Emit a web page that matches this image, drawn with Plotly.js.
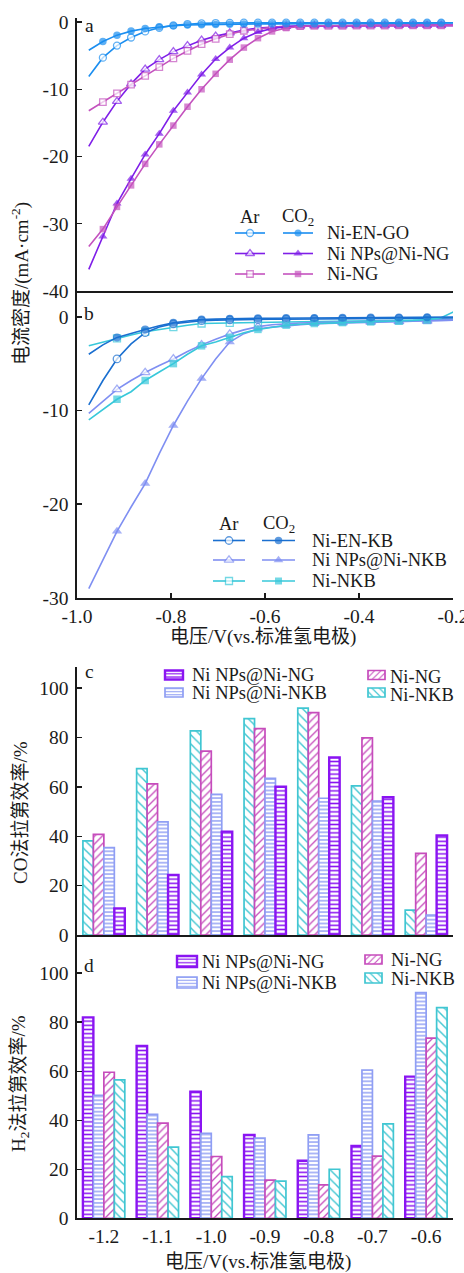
<!DOCTYPE html>
<html><head><meta charset="utf-8">
<script src="https://cdn.plot.ly/plotly-3.0.1.min.js"></script>
<style>html,body{margin:0;padding:0;background:#fff}#chart{width:464px;height:1273px}</style>
</head><body><div id="chart"></div>
<script>
// ---------------- DATA ----------------
// panels a & b: potential (V vs. RHE) and current density (mA/cm2)
const potential = [-0.975,-0.945,-0.915,-0.885,-0.855,-0.825,-0.795,-0.765,-0.735,-0.705,-0.675,-0.645,-0.615,-0.585,-0.555,-0.525,-0.495,-0.465,-0.435,-0.405,-0.375,-0.345,-0.315,-0.285,-0.255,-0.225,-0.195];
const a_NiENGO_Ar   = [-8.1,-5.3,-3.5,-2.3,-1.4,-0.85,-0.5,-0.3,-0.2,-0.15,-0.12,-0.1,-0.1,-0.1,-0.1,-0.1,-0.1,-0.1,-0.1,-0.1,-0.1,-0.1,-0.1,-0.1,-0.1,-0.1,-0.1];
const a_NiENGO_CO2  = [-4.2,-2.9,-1.95,-1.35,-0.95,-0.7,-0.55,-0.45,-0.4,-0.35,-0.32,-0.3,-0.28,-0.27,-0.26,-0.25,-0.24,-0.23,-0.22,-0.21,-0.2,-0.2,-0.19,-0.18,-0.17,-0.16,-0.15];
const a_NPsNG_Ar    = [-18.5,-14.9,-11.8,-9.2,-7.0,-5.6,-4.4,-3.5,-2.7,-2.1,-1.6,-1.2,-0.9,-0.75,-0.65,-0.6,-0.58,-0.56,-0.55,-0.54,-0.53,-0.52,-0.51,-0.5,-0.5,-0.5,-0.5];
const a_NiNG_Ar     = [-13.2,-11.9,-10.6,-9.3,-8.0,-6.7,-5.4,-4.3,-3.3,-2.5,-1.8,-1.3,-1.0,-0.8,-0.7,-0.62,-0.58,-0.56,-0.55,-0.54,-0.53,-0.52,-0.51,-0.5,-0.5,-0.5,-0.5];
const a_NPsNG_CO2   = [-36.8,-31.9,-27.0,-23.3,-19.7,-16.6,-13.2,-10.5,-7.8,-5.5,-3.8,-2.4,-1.5,-0.95,-0.7,-0.6,-0.55,-0.53,-0.52,-0.51,-0.5,-0.5,-0.5,-0.5,-0.5,-0.5,-0.5];
const a_NiNG_CO2    = [-33.4,-30.8,-27.5,-24.3,-21.1,-18.2,-15.4,-12.6,-10.0,-7.7,-5.6,-3.8,-2.4,-1.4,-0.9,-0.65,-0.55,-0.52,-0.5,-0.5,-0.5,-0.5,-0.5,-0.5,-0.5,-0.5,-0.5];

const b_NiENKB_Ar   = [-9.4,-6.8,-4.5,-2.9,-1.7,-1.1,-0.75,-0.55,-0.42,-0.36,-0.32,-0.3,-0.28,-0.27,-0.26,-0.25,-0.24,-0.23,-0.22,-0.21,-0.2,-0.19,-0.18,-0.17,-0.16,-0.15,-0.12];
const b_NiENKB_CO2  = [-4.0,-3.0,-2.2,-1.75,-1.35,-0.95,-0.65,-0.45,-0.3,-0.25,-0.2,-0.18,-0.16,-0.15,-0.14,-0.13,-0.12,-0.11,-0.1,-0.1,-0.09,-0.08,-0.07,-0.06,-0.05,-0.04,-0.03];
const b_NPsNKB_Ar   = [-10.3,-9.0,-7.75,-6.8,-5.95,-5.2,-4.5,-3.7,-3.0,-2.4,-1.85,-1.4,-1.05,-0.85,-0.72,-0.66,-0.62,-0.6,-0.58,-0.56,-0.54,-0.52,-0.5,-0.48,-0.45,-0.4,-0.35];
const b_NiNKB_Ar    = [-3.1,-2.7,-2.3,-1.95,-1.6,-1.35,-1.1,-0.9,-0.72,-0.68,-0.65,-0.62,-0.6,-0.58,-0.56,-0.54,-0.52,-0.5,-0.48,-0.46,-0.44,-0.42,-0.4,-0.38,-0.36,-0.34,-0.3];
const b_NPsNKB_CO2  = [-29.0,-26.0,-22.9,-20.3,-17.8,-14.6,-11.6,-9.0,-6.6,-4.5,-2.7,-1.8,-1.3,-1.1,-0.95,-0.85,-0.75,-0.7,-0.66,-0.62,-0.58,-0.55,-0.52,-0.48,-0.44,-0.4,-0.35];
const b_NiNKB_CO2   = [-11.0,-9.9,-8.8,-8.0,-6.8,-5.9,-5.0,-4.0,-3.1,-2.7,-2.2,-1.7,-1.35,-1.1,-0.9,-0.8,-0.72,-0.66,-0.62,-0.58,-0.55,-0.5,-0.45,-0.4,-0.3,-0.1,0.6];

// panels c & d: Faradaic efficiencies (%)
const fePotentials = ['-1.2','-1.1','-1.0','-0.9','-0.8','-0.7','-0.6'];
const coFE_NiNPsNiNG  = [10.8,24.3,41.9,60.1,71.9,55.8,40.3];
const coFE_NiNPsNiNKB = [35.4,45.8,57.0,63.5,55.4,54.3,8.1];
const coFE_NiNG       = [40.8,61.2,74.5,83.6,90.1,79.9,33.1];
const coFE_NiNKB      = [38.1,67.4,82.7,87.7,91.9,60.4,10.1];
const h2FE_NiNPsNiNG  = [82.0,70.3,51.7,34.0,23.5,29.5,57.8];
const h2FE_NiNPsNiNKB = [50.2,42.4,34.7,32.7,34.0,60.5,92.1];
const h2FE_NiNG       = [59.6,38.8,25.2,15.6,13.6,25.4,73.5];
const h2FE_NiNKB      = [56.5,29.0,17.0,15.2,20.0,38.5,86.0];

// tick labels
const jTickVals_a = [0,-10,-20,-30,-40];
const jTickText_a = ['0','-10','-20','-30','-40'];
const jTickVals_b = [0,-10,-20,-30];
const jTickText_b = ['0','-10','-20','-30'];
const vTickVals = [-1.0,-0.8,-0.6,-0.4,-0.2];
const vTickText = ['-1.0','-0.8','-0.6','-0.4','-0.2'];
const feTickVals = [0,20,40,60,80,100];

// ---------------- STYLE / LAYOUT ----------------
const W = 464, H = 1273;
const FONT = "'Liberation Serif', 'Times New Roman', 'Noto Sans CJK SC', serif";
const INK = '#1a1a1a';
const C = {
  GO:'#1b8ef0', NPsNG:'#7f1ee8', NG:'#c452be',
  EKB:'#1a6fd0', NPsNKB:'#7f8ff2', NKB:'#38c8da',
  barNPsNG:'#8a14f2', barNPsNKB:'#8f9ef4', barNG:'#c64cbc', barNKB:'#40c6d2'
};
function dom(top, bot){ return [1 - bot/H, 1 - top/H]; }
const xd = [77/W, 453/W];
const ax = {showline:true, linecolor:INK, linewidth:1.6, ticks:'inside', ticklen:5, tickwidth:1.5,
  tickcolor:INK, showgrid:false, zeroline:false, fixedrange:true, ticklabeloverflow:'allow',
  tickfont:{family:FONT, size:19.5, color:INK}};

function curve(y, xa, ya, color, symbol, open, size, every){
  const n = y.length, s = [], lw = [];
  for (let i = 0; i < n; i++){
    const on = i > 0 && i % every === 0;
    s.push(on ? size : 0); lw.push(on && open ? 1.3 : 0);
  }
  return {type:'scatter', mode:'lines+markers', x:potential, y:y, xaxis:xa, yaxis:ya,
    line:{color:color, width:1.6},
    marker:{symbol:symbol, size:s, color: open ? 'white' : color, line:{color:color, width:lw}},
    showlegend:false, hoverinfo:'skip', cliponaxis:false};
}
const BS = {
  NPsNG:{color:C.barNPsNG, shape:'-', size:4.2, sol:0.36, lw:2.4},
  NPsNKB:{color:C.barNPsNKB, shape:'-', size:3.8, sol:0.38, lw:1.7},
  NG:{color:C.barNG, shape:'/', size:5.5, sol:0.24, lw:1.7},
  NKB:{color:C.barNKB, shape:'\\', size:6.5, sol:0.22, lw:1.7}
};
function bars(y, xa, ya, st){
  return {type:'bar', x:fePotentials, y:y, xaxis:xa, yaxis:ya,
    marker:{color:'white', line:{color:st.color, width:st.lw},
      pattern:{shape:st.shape, fgcolor:st.color, bgcolor:'white', size:st.size, solidity:st.sol}},
    showlegend:false, hoverinfo:'skip'};
}

const traces = [
  // panel a
  curve(a_NiENGO_Ar, 'x', 'y', C.GO, 'circle', true, 7, 1),
  curve(a_NPsNG_Ar, 'x', 'y', C.NPsNG, 'triangle-up', true, 8, 1),
  curve(a_NiNG_Ar, 'x', 'y', C.NG, 'square', true, 6.5, 1),
  curve(a_NPsNG_CO2, 'x', 'y', C.NPsNG, 'triangle-up', false, 8, 1),
  curve(a_NiNG_CO2, 'x', 'y', C.NG, 'square', false, 6.5, 1),
  curve(a_NiENGO_CO2, 'x', 'y', C.GO, 'circle', false, 7.5, 1),
  // panel b
  curve(b_NiNKB_Ar, 'x2', 'y2', C.NKB, 'square', true, 7, 2),
  curve(b_NPsNKB_Ar, 'x2', 'y2', C.NPsNKB, 'triangle-up', true, 8.5, 2),
  curve(b_NiENKB_Ar, 'x2', 'y2', C.EKB, 'circle', true, 7.5, 2),
  curve(b_NPsNKB_CO2, 'x2', 'y2', C.NPsNKB, 'triangle-up', false, 9, 2),
  curve(b_NiNKB_CO2, 'x2', 'y2', C.NKB, 'square', false, 7.5, 2),
  curve(b_NiENKB_CO2, 'x2', 'y2', C.EKB, 'circle', false, 8, 2),
  // panel c
  bars(coFE_NiNKB, 'x3', 'y3', BS.NKB),
  bars(coFE_NiNG, 'x3', 'y3', BS.NG),
  bars(coFE_NiNPsNiNKB, 'x3', 'y3', BS.NPsNKB),
  bars(coFE_NiNPsNiNG, 'x3', 'y3', BS.NPsNG),
  // panel d
  bars(h2FE_NiNPsNiNG, 'x4', 'y4', BS.NPsNG),
  bars(h2FE_NiNPsNiNKB, 'x4', 'y4', BS.NPsNKB),
  bars(h2FE_NiNG, 'x4', 'y4', BS.NG),
  bars(h2FE_NiNKB, 'x4', 'y4', BS.NKB)
];

// ---------- hand-built legends on a pixel overlay axis (x5/y5) ----------
const annotations = [];
function txt(t, x, y, opts){
  annotations.push(Object.assign({text:t, x:x, y:y, xref:'x5', yref:'y5', showarrow:false,
    xanchor:'left', yanchor:'middle', font:{family:FONT, size:18.5, color:INK}}, opts||{}));
}
function sample(x0, x1, y, color, symbol, open, size){
  traces.push({type:'scatter', mode:'lines+markers', x:[x0,(x0+x1)/2,x1], y:[y,y,y], xaxis:'x5', yaxis:'y5',
    line:{color:color, width:1.6},
    marker:{symbol:symbol, size:[0,size,0], color: open ? 'white' : color, line:{color:color, width:[0, open?1.3:0, 0]}},
    showlegend:false, hoverinfo:'skip', cliponaxis:false});
}
function key(x0, x1, y0, y1, st){
  const w = x1 - x0;
  traces.push({type:'bar', x:[(x0+x1)/2], y:[y1-y0], base:[y0], width:[w], offset:[-w/2], xaxis:'x5', yaxis:'y5',
    marker:{color:'white', line:{color:st.color, width:st.lw},
      pattern:{shape:st.shape, fgcolor:st.color, bgcolor:'white', size:st.size*0.8, solidity:st.sol}},
    showlegend:false, hoverinfo:'skip'});
}
// legend a
const LA = {ar:[235,265], co:[283,313], tx:325, hy:217, rows:[233,253.5,274]};
txt('Ar', (LA.ar[0]+LA.ar[1])/2, LA.hy, {xanchor:'center'});
txt('CO<sub>2</sub>', (LA.co[0]+LA.co[1])/2, LA.hy, {xanchor:'center'});
[['Ni-EN-GO', C.GO, 'circle', 7], ['Ni NPs@Ni-NG', C.NPsNG, 'triangle-up', 8], ['Ni-NG', C.NG, 'square', 6.5]].forEach((r, i) => {
  sample(LA.ar[0], LA.ar[1], LA.rows[i], r[1], r[2], true, r[3]);
  sample(LA.co[0], LA.co[1], LA.rows[i], r[1], r[2], false, r[3]);
  txt(r[0], LA.tx, LA.rows[i]);
});
// legend b
const LB = {ar:[213,245], co:[262,295], tx:310, hy:524, rows:[540.5,560,581]};
txt('Ar', (LB.ar[0]+LB.ar[1])/2, LB.hy, {xanchor:'center'});
txt('CO<sub>2</sub>', (LB.co[0]+LB.co[1])/2, LB.hy, {xanchor:'center'});
[['Ni-EN-KB', C.EKB, 'circle', 7.5], ['Ni NPs@Ni-NKB', C.NPsNKB, 'triangle-up', 8.5], ['Ni-NKB', C.NKB, 'square', 7]].forEach((r, i) => {
  sample(LB.ar[0], LB.ar[1], LB.rows[i], r[1], r[2], true, r[3]);
  sample(LB.co[0], LB.co[1], LB.rows[i], r[1], r[2], false, r[3]);
  txt(r[0], LB.tx, LB.rows[i]);
});
// legend c
key(165,183,670.5,679.5,BS.NPsNG); txt('Ni NPs@Ni-NG', 190, 675);
key(165,183,688,697,BS.NPsNKB);  txt('Ni NPs@Ni-NKB', 190, 693);
key(368,385,670.5,679.5,BS.NG);  txt('Ni-NG', 388, 676.5);
key(368,385,688,697,BS.NKB);     txt('Ni-NKB', 388, 694.5);
// legend d
key(177,197,956,967,BS.NPsNG);   txt('Ni NPs@Ni-NG', 200, 962);
key(177,197,977,988,BS.NPsNKB);  txt('Ni NPs@Ni-NKB', 200, 983);
key(365,382,955,964,BS.NG);      txt('Ni-NG', 389, 960);
key(365,382,973,983,BS.NKB);     txt('Ni-NKB', 389, 978.5);

// panel letters
txt('a', 89, 25, {xanchor:'center', font:{family:FONT, size:19.5, color:INK}});
txt('b', 88.5, 313, {xanchor:'center', font:{family:FONT, size:19.5, color:INK}});
txt('c', 89, 671.5, {xanchor:'center', font:{family:FONT, size:19.5, color:INK}});
txt('d', 89, 965, {xanchor:'center', font:{family:FONT, size:19.5, color:INK}});
// axis titles
const TF = {family:FONT, size:19, color:INK};
txt('电流密度/(mA·cm<sup>-2</sup>)', 20, 284, {xanchor:'center', textangle:-90, font:TF});
txt('电压/V(vs.标准氢电极)', 263, 637, {xanchor:'center', font:TF});
txt('CO法拉第效率/%', 20, 813, {xanchor:'center', textangle:-90, font:TF});
txt('H<sub>2</sub>法拉第效率/%', 20, 1084, {xanchor:'center', textangle:-90, font:TF});
txt('电压/V(vs.标准氢电极)', 258, 1262, {xanchor:'center', font:TF});

const layout = {
  width:W, height:H, margin:{l:0, r:0, t:0, b:0},
  paper_bgcolor:'white', plot_bgcolor:'rgba(0,0,0,0)', showlegend:false,
  barmode:'group', bargap:0.22, bargroupgap:0,
  font:{family:FONT, color:INK},
  xaxis:Object.assign({}, ax, {domain:xd, anchor:'y', range:[-1.0001,-0.1999], ticks:'', showticklabels:false}),
  yaxis:Object.assign({}, ax, {domain:dom(18,291), anchor:'x', range:[-40.01,0.6], tickvals:jTickVals_a, ticktext:jTickText_a, ticklabelstandoff:3}),
  xaxis2:Object.assign({}, ax, {domain:xd, anchor:'y2', range:[-1.0001,-0.1999], tickvals:vTickVals, ticktext:vTickText}),
  yaxis2:Object.assign({}, ax, {domain:dom(291,598), anchor:'x2', range:[-30.01,2.75], tickvals:jTickVals_b, ticktext:jTickText_b, ticklabelstandoff:3}),
  xaxis3:Object.assign({}, ax, {domain:xd, anchor:'y3', type:'category', ticks:'', showticklabels:false}),
  yaxis3:Object.assign({}, ax, {domain:dom(667,935), anchor:'x3', range:[-0.01,108.6], tickvals:feTickVals, ticklabelstandoff:3}),
  xaxis4:Object.assign({}, ax, {domain:xd, anchor:'y4', type:'category', ticks:''}),
  yaxis4:Object.assign({}, ax, {domain:dom(935,1218.3), anchor:'x4', range:[-0.01,115.6], tickvals:feTickVals, ticklabelstandoff:3}),
  xaxis5:{domain:[0,1], range:[0,W], visible:false, anchor:'y5', fixedrange:true},
  yaxis5:{domain:[0,1], range:[H,0], visible:false, anchor:'x5', fixedrange:true},
  annotations:annotations
};
Plotly.newPlot('chart', traces, layout, {displayModeBar:false, staticPlot:true});
</script></body></html>
